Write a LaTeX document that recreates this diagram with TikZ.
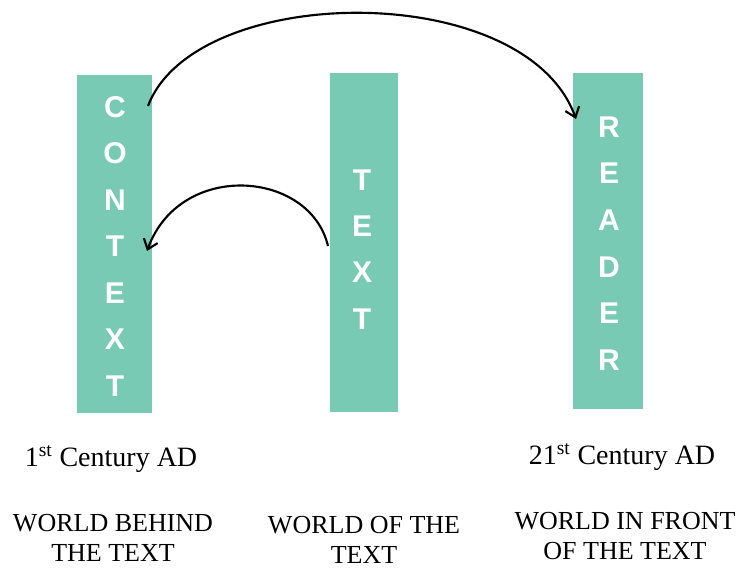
\documentclass[tikz,border=0pt]{standalone}
\usepackage{fontspec}
\setmainfont{Liberation Serif}
\newfontfamily\barfont{Liberation Sans}
\usetikzlibrary{arrows.meta}
\definecolor{barfill}{RGB}{120,202,181}
\tikzset{
  bar/.style={fill=barfill, draw=none},
  letter/.style={font=\barfont\bfseries\fontsize{22.5}{22.5}\selectfont, text=white, inner sep=0pt, anchor=center},
  caption/.style={font=\fontsize{19.5}{22.5}\selectfont, align=center, inner sep=0pt, anchor=center},
  eracaption/.style={font=\fontsize{21}{22.5}\selectfont, inner sep=0pt, anchor=center},
  curvearrow/.style={line width=1.6pt, -{Straight Barb[length=7pt, width=11pt, line width=1.6pt]}}
}
\begin{document}
\begin{tikzpicture}[x=0.75pt, y=-0.75pt]
  \useasboundingbox (0,0) rectangle (737,570);

  % the three columns
  \path[bar] (77,75) rectangle (152,413);
  \path[bar] (330,73) rectangle (398,412);
  \path[bar] (573,73) rectangle (643,409);

  % CONTEXT
  \foreach \ch [count=\i from 0] in {C,O,N,T,E,X,T}
    \node[letter] (ctx\i) at (115,107+46.5*\i) {\ch};
  % TEXT
  \foreach \ch [count=\i from 0] in {T,E,X,T}
    \node[letter] (txt\i) at (362,180+46.3*\i) {\ch};
  % READER
  \foreach \ch [count=\i from 0] in {R,E,A,D,E,R}
    \node[letter] (rdr\i) at (609,127+46.6*\i) {\ch};

  % connector end points on the column edges
  \coordinate (ctxTop) at (148,106);
  \coordinate (rdrIn) at (576,119);
  \coordinate (txtOut) at (328,246);
  \coordinate (ctxIn) at (147,251);

  \draw[curvearrow] (ctxTop) .. controls (195,-18) and (525,-22) .. (rdrIn);
  \draw[curvearrow] (txtOut) .. controls (310,170) and (180,160) .. (ctxIn);

  % captions
  \node[eracaption] (era1) at (111,459) {1\textsuperscript{st} Century AD};
  \node[eracaption] (era2) at (622,457) {21\textsuperscript{st} Century AD};
  \node[caption] (w1) at (113,538) {WORLD BEHIND\\THE TEXT};
  \node[caption] (w2) at (364,540) {WORLD OF THE\\TEXT};
  \node[caption] (w3) at (625,536) {WORLD IN FRONT\\OF THE TEXT};
\end{tikzpicture}
\end{document}
